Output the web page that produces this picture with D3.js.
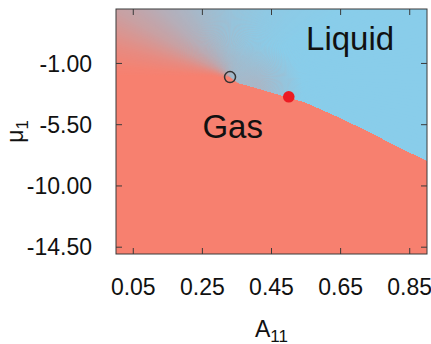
<!DOCTYPE html>
<html>
<head>
<meta charset="utf-8">
<script src="https://cdn.jsdelivr.net/npm/d3@7"></script>
<style>
  html, body { margin: 0; padding: 0; background: #fff; }
  svg { display: block; font-family: "Liberation Sans", Arial, sans-serif; }
</style>
</head>
<body>
<svg id="chart" width="431" height="344"></svg>
<script>
// Phase diagram: gas / liquid regions in the (A11, mu1) plane.

// Coexistence line from the critical point to the right edge
const lineA  = [0.33, 0.34, 0.41, 0.47, 0.50, 0.55, 0.63, 0.73, 0.82, 0.90];
const lineMu = [-2.0, -2.35, -2.85, -3.3, -3.5, -3.9, -4.8, -6.0, -7.2, -8.15];

// Critical point (open circle) and the highlighted state point (filled)
const criticalPoint = { A: 0.33, mu: -2.0 };
const statePoint    = { A: 0.50, mu: -3.45 };

// Supercritical crossover: liquid fraction by direction around the critical point
// (degrees, 0 = towards small A, 90 = towards large mu)
const crossAngle = [0, 5, 15, 30, 45, 65, 90, 120, 150];
const crossFrac  = [0, 0.03, 0.15, 0.42, 0.6, 0.75, 0.87, 0.95, 1.0];

// Axis ticks
const xTicks = [0.05, 0.25, 0.45, 0.65, 0.85];
const yTicks = [-1.00, -5.50, -10.00, -14.50];

// Region labels
const regionLabels = [
  { text: "Liquid", A: 0.55, mu: 0.0 },
  { text: "Gas",    A: 0.25, mu: -6.5 }
];

const gasColor = "#f7806f";
const liquidColor = "#89cdea";
const frameColor = "#3a3a3a";
const fmt = v => v.toFixed(2);   // plain hyphen-minus, as in gnuplot labels

const svg = d3.select("#chart");
const plot = { left: 116, right: 427, top: 9, bottom: 254 };

const x = d3.scaleLinear().domain([0, 0.9]).range([plot.left, plot.right]);
const y = d3.scaleLinear().domain([-15, 3]).range([plot.bottom, plot.top]);

const defs = svg.append("defs");
defs.append("clipPath").attr("id", "plot-clip")
  .append("rect")
  .attr("x", plot.left).attr("y", plot.top)
  .attr("width", plot.right - plot.left).attr("height", plot.bottom - plot.top);

const mix = d3.interpolateRgb(gasColor, liquidColor);

// Soft grey band just above the first stretch of the coexistence line
const halo = defs.append("radialGradient").attr("id", "halo");
halo.append("stop").attr("offset", "0%").attr("stop-color", mix(0.55)).attr("stop-opacity", 0.6);
halo.append("stop").attr("offset", "100%").attr("stop-color", mix(0.55)).attr("stop-opacity", 0);

const field = svg.append("g").attr("clip-path", "url(#plot-clip)");

field.append("rect")
  .attr("x", plot.left).attr("y", plot.top)
  .attr("width", plot.right - plot.left).attr("height", plot.bottom - plot.top)
  .attr("fill", gasColor);

// Fan of thin wedges around the critical point carrying the crossover colour
const cx = x(criticalPoint.A), cy = y(criticalPoint.mu);
const fracAt = d3.scaleLinear().domain(crossAngle).range(crossFrac).clamp(true);
const R = 900;
const rad = Math.PI / 180;
const wedges = d3.range(-10, 215, 1);
field.append("g").selectAll("path").data(wedges).join("path")
  .attr("d", t => {
    const a0 = t * rad, a1 = (t + 1.6) * rad;
    return `M${cx},${cy}L${cx - R * Math.cos(a0)},${cy - R * Math.sin(a0)}` +
           `L${cx - R * Math.cos(a1)},${cy - R * Math.sin(a1)}Z`;
  })
  .attr("fill", t => mix(fracAt(t + 0.5)));

field.append("circle")
  .attr("cx", x(lineA[2])).attr("cy", y(lineMu[2])).attr("r", 45)
  .attr("fill", "url(#halo)");

// Gas region below the coexistence line
const gasPts = [[0, criticalPoint.mu]]
  .concat(lineA.map((a, i) => [a, lineMu[i]]))
  .concat([[0.9, -15], [0, -15]]);
field.append("path")
  .attr("d", d3.line().x(d => x(d[0])).y(d => y(d[1]))(gasPts) + "Z")
  .attr("fill", gasColor)
  .attr("shape-rendering", "crispEdges");

// Region labels
svg.selectAll("text.region").data(regionLabels).join("text")
  .attr("class", "region")
  .attr("x", d => x(d.A)).attr("y", d => y(d.mu))
  .attr("font-size", 33).attr("fill", "#111")
  .text(d => d.text);

// Points
svg.append("circle")
  .attr("cx", x(criticalPoint.A)).attr("cy", y(criticalPoint.mu)).attr("r", 5.5)
  .attr("fill", "none").attr("stroke", "#333").attr("stroke-width", 1.5);
svg.append("circle")
  .attr("cx", x(statePoint.A)).attr("cy", y(statePoint.mu)).attr("r", 5.8)
  .attr("fill", "#ec1b23");

// Frame with inward ticks on all four sides
const tickLen = 6;
const axes = svg.append("g").attr("stroke", frameColor).attr("stroke-width", 1);
axes.append("rect")
  .attr("x", plot.left).attr("y", plot.top)
  .attr("width", plot.right - plot.left).attr("height", plot.bottom - plot.top)
  .attr("fill", "none");
xTicks.forEach(t => {
  axes.append("line").attr("x1", x(t)).attr("x2", x(t)).attr("y1", plot.bottom).attr("y2", plot.bottom - tickLen);
  axes.append("line").attr("x1", x(t)).attr("x2", x(t)).attr("y1", plot.top).attr("y2", plot.top + tickLen);
});
yTicks.forEach(t => {
  axes.append("line").attr("y1", y(t)).attr("y2", y(t)).attr("x1", plot.left).attr("x2", plot.left + tickLen);
  axes.append("line").attr("y1", y(t)).attr("y2", y(t)).attr("x1", plot.right).attr("x2", plot.right - tickLen);
});

// Tick labels
svg.append("g").selectAll("text").data(xTicks).join("text")
  .attr("x", d => x(d)).attr("y", 295)
  .attr("text-anchor", "middle").attr("font-size", 23).attr("fill", "#111")
  .text(fmt);
svg.append("g").selectAll("text").data(yTicks).join("text")
  .attr("x", 92).attr("y", d => y(d)).attr("dy", "0.36em")
  .attr("text-anchor", "end").attr("font-size", 23).attr("fill", "#111")
  .text(fmt);

// Axis titles
const xt = svg.append("text")
  .attr("x", (plot.left + plot.right) / 2).attr("y", 336.5)
  .attr("text-anchor", "middle").attr("font-size", 23).attr("fill", "#111");
xt.append("tspan").text("A");
xt.append("tspan").attr("font-size", 17).attr("dy", 5).text("11");

const yt = svg.append("text")
  .attr("transform", `translate(23,${(plot.top + plot.bottom) / 2}) rotate(-90)`)
  .attr("text-anchor", "middle").attr("font-size", 23).attr("fill", "#111");
yt.append("tspan").text("μ");
yt.append("tspan").attr("font-size", 17).attr("dy", 5).text("1");
</script>
</body>
</html>
